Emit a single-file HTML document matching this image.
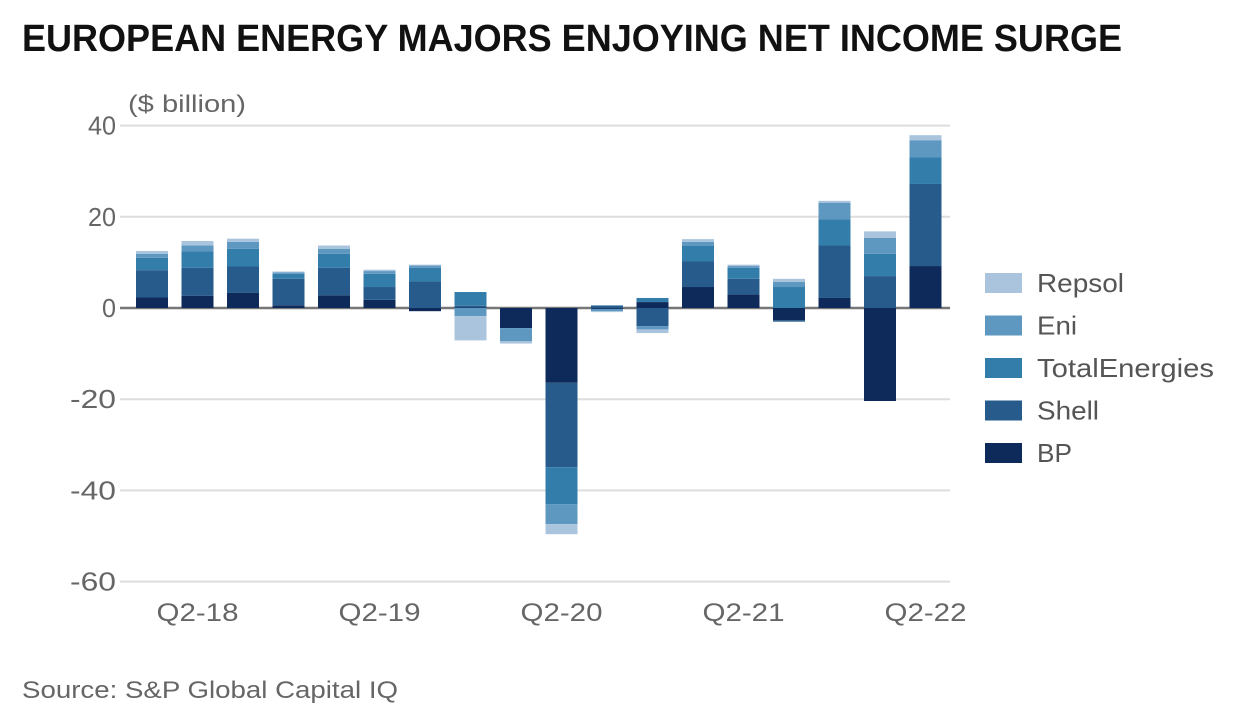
<!DOCTYPE html>
<html><head><meta charset="utf-8"><style>
html,body{margin:0;padding:0;background:#fff;}
svg{display:block;font-family:"Liberation Sans",sans-serif;}
</style></head><body>
<svg id="chart" width="1250" height="716" viewBox="0 0 1250 716">
<text x="22" y="51" font-size="38" font-weight="bold" fill="#111" textLength="1100" lengthAdjust="spacingAndGlyphs">EUROPEAN ENERGY MAJORS ENJOYING NET INCOME SURGE</text>
<text x="128" y="112" font-size="24" fill="#666" textLength="118" lengthAdjust="spacingAndGlyphs">($ billion)</text>
<g id="grid"></g>
<g id="bars"></g>
<g id="xlabels"></g>
<g id="legend"></g>
<text x="22" y="698" font-size="24" fill="#666" textLength="376" lengthAdjust="spacingAndGlyphs">Source: S&amp;P Global Capital IQ</text>
</svg>
<script>
const quarters = ["Q1-18","Q2-18","Q3-18","Q4-18","Q1-19","Q2-19","Q3-19","Q4-19","Q1-20","Q2-20","Q3-20","Q4-20","Q1-21","Q2-21","Q3-21","Q4-21","Q1-22","Q2-22"];
const seriesNames = ["BP","Shell","TotalEnergies","Eni","Repsol"];
const bp     = [2.3,2.7,3.3,0.6,2.8,1.8,-0.7,0.1,-4.4,-16.4,-0.2,1.3,4.6,3.0,-2.7,2.2,-20.4,9.2];
const shell  = [6.0,6.1,5.8,5.8,6.0,2.8,5.8,0.4,0,-18.5,0.5,-4.0,5.6,3.4,-0.3,11.5,7.0,18.0];
const total  = [2.7,3.6,3.9,1.1,3.1,2.9,3.0,3.0,0,-8.1,0.1,0.9,3.4,2.4,4.6,5.7,4.9,5.8];
const eni    = [0.9,1.3,1.5,0.3,1.1,0.6,0.5,-1.8,-2.9,-4.4,-0.5,-0.7,0.9,0.4,1.1,3.7,3.5,3.8];
const repsol = [0.6,1.0,0.7,0.2,0.7,0.3,0.2,-5.3,-0.5,-2.2,-0.2,-0.8,0.6,0.3,0.7,0.4,1.4,1.1];
const yTicks = [40,20,0,-20,-40,-60];
const xTickLabels = ["Q2-18","Q2-19","Q2-20","Q2-21","Q2-22"];
const xTickIdx = [1,5,9,13,17];

const colors = ["#0d2a5b","#265b8c","#337dab","#5e97c0","#a9c4dc"];
const legendWidths = {"BP":35,"Shell":62,"TotalEnergies":177,"Eni":40,"Repsol":87};
const NS = "http://www.w3.org/2000/svg";
const y = v => 308 - v * 4.56;
const x = i => 152 + i * 45.5;
const bw = 32;
function mk(tag, attrs, parent){const e=document.createElementNS(NS,tag);for(const k in attrs)e.setAttribute(k,attrs[k]);parent.appendChild(e);return e;}
const grid=document.getElementById('grid');
yTicks.forEach(t=>{
  const l=mk('line',{x1:120,x2:950,y1:y(t),y2:y(t),stroke:t===0?'#777':'#ddd','stroke-width':t===0?2.5:2},grid);
  
  
  const s=String(t);
  const tx=mk('text',{x:116,y:y(t)+9,'text-anchor':'end','font-size':26,fill:'#666',textLength:(s.length*14+(s[0]==='-'?4:0)),lengthAdjust:'spacingAndGlyphs'},grid);
  tx.textContent=t;
  
  
});
const series=[bp,shell,total,eni,repsol];
const bars=document.getElementById('bars');
quarters.forEach((q,i)=>{
  let pos=0,neg=0;
  series.forEach((s,k)=>{
    const v=s[i]; if(!v) return;
    let y0,y1;
    if(v>0){y0=pos;pos+=v;y1=pos;}else{y0=neg;neg+=v;y1=neg;}
    const top=Math.min(y(y0),y(y1)),h=Math.abs(y(y1)-y(y0));
    const r=mk('rect',{x:x(i)-bw/2,y:top,width:bw,height:h,fill:colors[k]},bars);
    
    
  });
});
const xl=document.getElementById('xlabels');
xTickLabels.forEach((lab,j)=>{
  const t=mk('text',{x:x(xTickIdx[j]),y:621,'text-anchor':'middle','font-size':25,fill:'#666',textLength:82,lengthAdjust:'spacingAndGlyphs'},xl);
  t.textContent=lab;
  
  
});
const lg=document.getElementById('legend');
const legendOrder=[4,3,2,1,0];
legendOrder.forEach((k,r)=>{
  const cy=283+r*42.5;
  const sw=mk('rect',{x:985,y:cy-10,width:37,height:20,fill:colors[k]},lg);
  
  
  const t=mk('text',{x:1037,y:cy+9,'font-size':26,fill:'#555',textLength:legendWidths[seriesNames[k]],lengthAdjust:'spacingAndGlyphs'},lg);
  t.textContent=seriesNames[k];
  
  
});
</script>
</body></html>
